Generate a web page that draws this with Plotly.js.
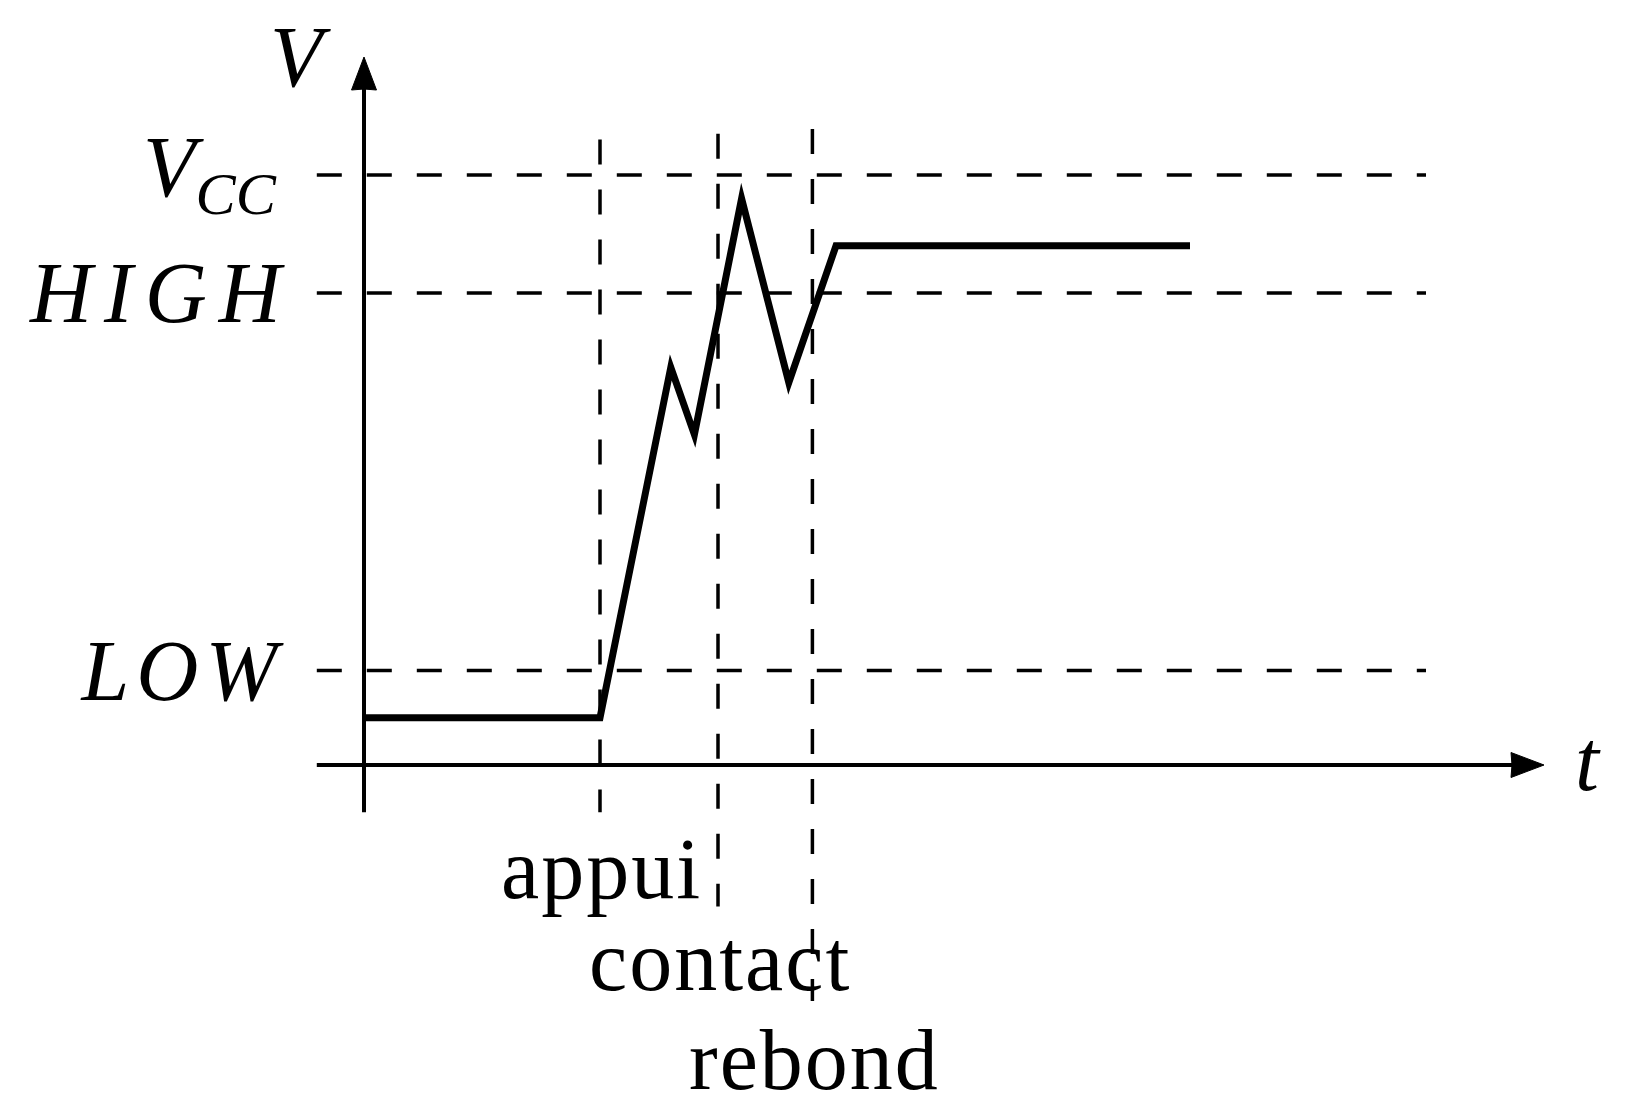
<!DOCTYPE html>
<html>
<head>
<meta charset="utf-8">
<script src="https://cdn.plot.ly/plotly-3.0.1.min.js"></script>
<style>
html,body{margin:0;padding:0;background:#fff;}
#chart{width:1632px;height:1116px;}
path.js-line{stroke-linejoin:miter !important;stroke-miterlimit:10 !important;}
/* Computer-Modern-like wider spacing */
g.annotation[data-index="0"] text{letter-spacing:7px;}
g.annotation[data-index="1"] text{letter-spacing:12px;}
g.annotation[data-index="3"] text, g.annotation[data-index="4"] text, g.annotation[data-index="5"] text{letter-spacing:2px;}
</style>
</head>
<body>
<div id="chart"></div>
<script>
// ---- data ----
const levelNames = ['<i>LOW</i>', '<i>HIGH</i>', '<i>V<sub>CC</sub></i>'];
const levelValues = [0.8, 4.0, 5.0];
const eventNames = ['appui', 'contact', 'rebond'];
const eventTimes = [2.0, 3.0, 3.8];
const signalT = [0, 2.0, 2.6, 2.8, 3.2, 3.6, 4.0, 7.0];
const signalV = [0.4, 0.4, 3.37, 2.8, 4.8, 3.24, 4.4, 4.4];
const axisNames = ['<i>t</i>', '<i>V</i>'];

// ---- geometry / style (not data) ----
const PX = 118;                 // pixels per unit
const W = 1632, H = 1116, X0 = 364, Y0 = 765;
const tAxis = [-0.4, 10.0];     // x axis extent (arrow tip at end)
const vAxis = [-0.4, 6.0];      // y axis extent (arrow tip at end)
const hDashSpan = [-0.4, 9.0];
const vDashTop = [5.30, 5.35, 5.39];
const vDashBottom = [-0.4, -1.2, -2.0];
const eventLabelY = [-0.88, -1.66, -2.50];
const levelLabelX = [-0.685, -0.755, -0.72];
const headLen = 33 / PX, headHalf = 12.5 / PX;
const serif = 'Liberation Serif, DejaVu Serif, serif';
const FS = 86;

const traces = [];
// horizontal dashed level lines
levelValues.forEach(v => traces.push({
  x: hDashSpan, y: [v, v], mode: 'lines', hoverinfo: 'skip',
  line: {color: '#000', width: 3.5, dash: '25px,25px'}
}));
// vertical dashed event lines
eventTimes.forEach((t, i) => traces.push({
  x: [t, t], y: [vDashTop[i], vDashBottom[i]], mode: 'lines', hoverinfo: 'skip',
  line: {color: '#000', width: 3.5, dash: '25px,25px'}
}));
// axes
traces.push({x: [tAxis[0], tAxis[1] - headLen * 0.8], y: [0, 0], mode: 'lines', hoverinfo: 'skip', line: {color: '#000', width: 4}});
traces.push({x: [0, 0], y: [vAxis[0], vAxis[1] - headLen * 0.8], mode: 'lines', hoverinfo: 'skip', line: {color: '#000', width: 4}});
// arrow heads
const tt = tAxis[1], vt = vAxis[1];
traces.push({
  x: [tt, tt - headLen, tt - headLen * 0.97, tt - headLen, tt],
  y: [0, headHalf, 0, -headHalf, 0],
  mode: 'lines', fill: 'toself', fillcolor: '#000', line: {color: '#000', width: 1}, hoverinfo: 'skip'
});
traces.push({
  x: [0, headHalf, 0, -headHalf, 0],
  y: [vt, vt - headLen, vt - headLen * 0.97, vt - headLen, vt],
  mode: 'lines', fill: 'toself', fillcolor: '#000', line: {color: '#000', width: 1}, hoverinfo: 'skip'
});
// signal
traces.push({x: signalT, y: signalV, mode: 'lines', hoverinfo: 'skip',
  line: {color: '#000', width: 7, shape: 'linear'}});

const annotations = [];
levelNames.forEach((n, i) => annotations.push({
  x: levelLabelX[i], y: levelValues[i] + (i === 2 ? 0.02 : 0), xref: 'x', yref: 'y', text: n, showarrow: false,
  xanchor: 'right', yanchor: 'middle', font: {family: serif, size: FS, color: '#000'}
}));
eventNames.forEach((n, i) => annotations.push({
  x: eventTimes[i] + 0.015, y: eventLabelY[i], xref: 'x', yref: 'y', text: n, showarrow: false,
  xanchor: 'center', yanchor: 'middle', font: {family: serif, size: FS, color: '#000'}
}));
annotations.push({x: 10.37, y: 0.03, xref: 'x', yref: 'y', text: axisNames[0], showarrow: false,
  xanchor: 'center', yanchor: 'middle', font: {family: serif, size: FS, color: '#000'}});
annotations.push({x: -0.54, y: 6.0, xref: 'x', yref: 'y', text: axisNames[1], showarrow: false,
  xanchor: 'center', yanchor: 'middle', font: {family: serif, size: FS, color: '#000'}});

const layout = {
  width: W, height: H,
  margin: {l: 0, r: 0, t: 0, b: 0, pad: 0},
  paper_bgcolor: '#fff', plot_bgcolor: '#fff',
  showlegend: false,
  xaxis: {range: [-X0 / PX, (W - X0) / PX], visible: false, fixedrange: true},
  yaxis: {range: [(Y0 - H) / PX, Y0 / PX], visible: false, fixedrange: true},
  annotations: annotations
};
Plotly.newPlot('chart', traces, layout, {staticPlot: true, displayModeBar: false});
</script>
</body>
</html>
